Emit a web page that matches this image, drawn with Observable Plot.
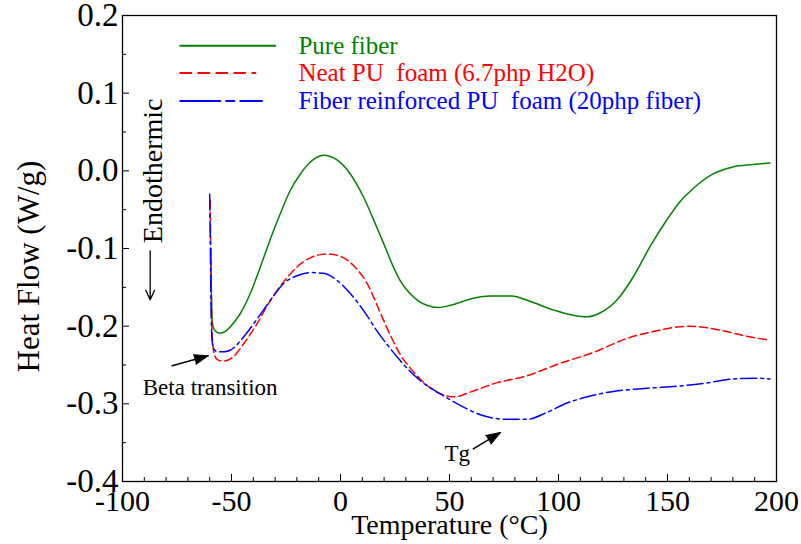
<!DOCTYPE html>
<html><head><meta charset="utf-8">
<script src="https://cdn.jsdelivr.net/npm/d3@7"></script>
<script src="https://cdn.jsdelivr.net/npm/@observablehq/plot@0.6"></script>
<style>
body{margin:0;background:#fff}
svg{display:block}
svg text{white-space:pre}
</style>
</head><body><div id="chart"></div>
<script>
// ---- data (temperature °C, heat flow W/g) ----
const seriesNames = ["Pure fiber", "Neat PU  foam (6.7php H2O)", "Fiber reinforced PU  foam (20php fiber)"];
const seriesColors = ["#008000", "#ff0000", "#0000ff"];
const seriesDash = [null, "8,4", "16,4,3,4"];
const legendDash = [null, "11,7", "40,6,8,6"];

const pureFiber = [[-59.5,-0.100],[-59.2,-0.160],[-58.8,-0.195],[-58,-0.204],[-56.5,-0.208],[-55,-0.209],[-53,-0.207],[-50.6,-0.201],[-46,-0.184],[-41.4,-0.158],[-36.8,-0.124],[-32.2,-0.088],[-27.6,-0.055],[-23,-0.025],[-18.4,-0.004],[-13.9,0.011],[-7.8,0.020],[-1.6,0.014],[4.5,-0.004],[10.6,-0.034],[16.7,-0.073],[20,-0.095],[24.3,-0.124],[27.5,-0.142],[31.9,-0.158],[36,-0.168],[39.6,-0.173],[44.9,-0.176],[51.8,-0.172],[60.9,-0.164],[68.6,-0.161],[78.5,-0.161],[86.9,-0.168],[97.6,-0.179],[106.7,-0.186],[112.9,-0.188],[119,-0.183],[126.6,-0.167],[134.2,-0.137],[141.9,-0.098],[149.5,-0.064],[155.6,-0.040],[161.7,-0.023],[170.9,-0.004],[180,0.005],[189.2,0.008],[197,0.010]];

const neatFoam = [[-59.8,-0.038],[-59.5,-0.100],[-59.2,-0.170],[-58.8,-0.215],[-58,-0.235],[-56.5,-0.243],[-53.6,-0.245],[-49,-0.239],[-44.5,-0.223],[-38.3,-0.197],[-32.2,-0.167],[-26.1,-0.143],[-20,-0.124],[-13.9,-0.112],[-6.2,-0.107],[-0.1,-0.110],[6,-0.122],[12.2,-0.145],[18.3,-0.183],[22.9,-0.212],[27.3,-0.236],[32,-0.254],[36.5,-0.268],[41,-0.279],[45.7,-0.287],[52.5,-0.291],[59.4,-0.285],[71.6,-0.273],[85.4,-0.264],[100.6,-0.248],[115.9,-0.234],[131.2,-0.216],[143.4,-0.207],[160.2,-0.200],[173.9,-0.205],[186.2,-0.213],[197,-0.218]];

const fiberFoam = [[-60,-0.030],[-59.7,-0.100],[-59.4,-0.170],[-59,-0.215],[-58.2,-0.229],[-56.5,-0.233],[-53.5,-0.233],[-50.6,-0.231],[-44.5,-0.214],[-38.3,-0.191],[-32.2,-0.167],[-26.1,-0.145],[-20,-0.135],[-13.9,-0.131],[-7.8,-0.132],[-1.6,-0.141],[4.5,-0.158],[10.6,-0.180],[16.7,-0.206],[22.9,-0.229],[27.3,-0.244],[36.5,-0.270],[45.7,-0.287],[54.9,-0.302],[64.1,-0.314],[76.4,-0.320],[85.6,-0.320],[94.7,-0.311],[103.9,-0.299],[113.1,-0.291],[125.3,-0.284],[140.6,-0.280],[155.9,-0.277],[168.2,-0.273],[180.4,-0.268],[191.1,-0.267],[197,-0.268]];

const xMajorTicks = [-100, -50, 0, 50, 100, 150, 200];
const xMinorTicks = [-90,-80,-70,-60,-40,-30,-20,-10,10,20,30,40,60,70,80,90,110,120,130,140,160,170,180,190];
const yMajorTicks = [0.2, 0.1, 0.0, -0.1, -0.2, -0.3, -0.4];
const yMinorTicks = [0.15, 0.05, -0.05, -0.15, -0.25, -0.35];

// ---- layout (data coordinates) ----
const legendY = [0.161, 0.126, 0.090];
const legendLineX1 = -73.5;
const legendLineX2 = [-30, -39, -36];
const legendTextX = -19.3;

const annotations = [
  {text: "Beta transition", x: -59.8, y: -0.279},
  {text: "Tg", x: 53.6, y: -0.364}
];
const pointerArrows = [
  {x1: -77.2, y1: -0.251, x2: -60.7, y2: -0.238},
  {x1: 60.9, y1: -0.358, x2: 73.3, y2: -0.337}
];
const endoArrow = [{x1: -87.3, y1: -0.103, x2: -87.3, y2: -0.166}];

const FONT = '"Liberation Serif", "Times New Roman", serif';
const W = 801, H = 544, ML = 122, MR = 25, MT = 15, MB = 63;
const kx = (W - ML - MR) / 300, ky = (H - MT - MB) / 0.6;  // px per unit, used only for arrowhead angle
const headAngle = a => Math.atan2((a.x2 - a.x1) * kx, (a.y2 - a.y1) * ky) * 180 / Math.PI;

const series = [pureFiber, neatFoam, fiberFoam];
const rows = series.map(s => s.map(([x, y]) => ({x, y})));

const lineMarks = rows.map((r, i) => Plot.line(r, {
  x: "x", y: "y", stroke: seriesColors[i], strokeWidth: 1.5,
  strokeDasharray: seriesDash[i], curve: "monotone-x"
}));

const legendMarks = seriesNames.flatMap((name, i) => [
  Plot.line([{x: legendLineX1, y: legendY[i]}, {x: legendLineX2[i], y: legendY[i]}], {
    x: "x", y: "y", stroke: seriesColors[i], strokeWidth: 2, strokeDasharray: legendDash[i]
  }),
  Plot.text([name], {x: legendTextX, y: legendY[i], text: d => d, fill: seriesColors[i],
    textAnchor: "start", fontSize: 25, fontFamily: FONT})
]);

const chart = Plot.plot({
  width: W, height: H,
  marginLeft: ML, marginRight: MR, marginTop: MT, marginBottom: MB,
  style: {fontFamily: FONT, background: "#fff", color: "#000"},
  x: {domain: [-100, 200], label: null},
  y: {domain: [-0.4, 0.2], label: null},
  marks: [
    Plot.axisX(xMinorTicks, {tickSize: -4, tickFormat: () => "", label: null}),
    Plot.axisX(xMajorTicks, {tickSize: -7, tickPadding: 15, fontSize: 30, tickFormat: d => String(d), label: null}),
    Plot.axisY(yMinorTicks, {tickSize: -4, tickFormat: () => "", label: null}),
    Plot.axisY(yMajorTicks, {tickSize: -7, tickPadding: 11, fontSize: 33, tickFormat: d => d.toFixed(1), label: null}),
    Plot.frame({stroke: "#000", strokeWidth: 1.3}),
    ...lineMarks,
    ...legendMarks,
    Plot.text(["Heat Flow (W/g)"], {text: d => d, frameAnchor: "left", textAnchor: "middle", rotate: -90, dx: -93, dy: 18, fontSize: 31, fontFamily: FONT}),
    Plot.text(["Temperature (°C)"], {text: d => d, frameAnchor: "bottom", dy: 44, fontSize: 28, lineAnchor: "middle", fontFamily: FONT}),
    Plot.text(["Endothermic"], {text: d => d, x: () => -86, y: () => 0.0, rotate: -90, fontSize: 28, fontFamily: FONT}),
    Plot.text(annotations, {x: "x", y: "y", text: "text", fontSize: 23, fontFamily: FONT}),
    Plot.arrow(endoArrow, {x1: "x1", y1: "y1", x2: "x2", y2: "y2", stroke: "#000", strokeWidth: 1.3, headLength: 12, headAngle: 50}),
    Plot.arrow(pointerArrows, {x1: "x1", y1: "y1", x2: "x2", y2: "y2", stroke: "#000", strokeWidth: 1.5, headLength: 0}),
    Plot.vector(pointerArrows, {x: "x2", y: "y2", rotate: headAngle, length: 14, r: 5, shape: "spike", anchor: "end", fill: "#000", stroke: "#000", strokeWidth: 1})
  ]
});
document.getElementById("chart").append(chart);
</script>
</body></html>
